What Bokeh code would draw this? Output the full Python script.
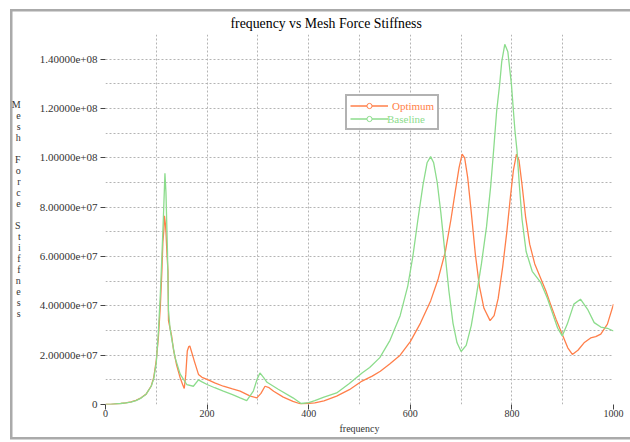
from bokeh.plotting import figure
from bokeh.models import (Range1d, FixedTicker, SingleIntervalTicker, Legend,
                          LegendItem, Title, ColumnDataSource)
from bokeh.embed import file_html
from bokeh.resources import INLINE

# Optimum design: frequency sweep and mesh force stiffness (in units of 1e7)
freq_opt = [0, 10, 20, 30, 40, 50, 60, 70, 80, 90, 95, 100, 104, 108, 111, 113,
            115, 116, 118, 119, 121, 123, 124, 127, 130, 134, 140, 147, 152, 155,
            158, 161, 164, 166, 170, 175, 183, 190, 200, 215, 232, 250, 265, 285,
            298, 306, 314, 322, 331, 350, 369, 383, 395, 412, 430, 455, 480, 505,
            525, 541, 560, 580, 600, 620, 640, 655, 669, 680, 689, 696, 702, 707,
            713, 720, 728, 736, 745, 757, 765, 773, 782, 790, 797, 803, 809, 814,
            820, 827, 835, 845, 857, 867, 876, 887, 899, 910, 919, 930, 942, 955,
            965, 975, 988, 1000]
stiff_opt_e7 = [0, 0, 0.02, 0.04, 0.07, 0.11, 0.17, 0.27, 0.42, 0.75, 1.1, 1.8,
                2.7, 4.0, 5.4, 6.6, 7.1, 7.65, 7.3, 7.0, 6.1, 5.4, 3.4, 3.1, 2.8,
                2.2, 1.6, 1.08, 0.8, 0.65, 1.2, 2.17, 2.35, 2.37, 2.1, 1.75, 1.22,
                1.1, 1.02, 0.88, 0.74, 0.63, 0.54, 0.34, 0.27, 0.45, 0.74, 0.68,
                0.54, 0.3, 0.13, 0.03, 0.04, 0.07, 0.15, 0.34, 0.6, 0.95, 1.15,
                1.35, 1.65, 2.0, 2.55, 3.3, 4.2, 5.1, 6.2, 7.5, 8.7, 9.6, 10.15,
                10.0, 9.2, 7.8, 6.1, 4.8, 3.9, 3.4, 3.6, 4.3, 5.6, 7.0, 8.4, 9.5,
                10.15, 9.9, 8.9, 7.6, 6.5, 5.7, 5.1, 4.6, 4.07, 3.45, 2.85, 2.3,
                2.03, 2.2, 2.5, 2.7, 2.75, 2.85, 3.26, 4.07]

# Baseline design
freq_base = [0, 10, 20, 30, 40, 50, 60, 70, 80, 90, 95, 100, 104, 108, 111, 114,
             117, 119, 122, 124, 127, 130, 137, 147, 160, 173, 183, 190, 200, 215,
             232, 250, 265, 278, 291, 298, 304, 311, 318, 340, 369, 385, 400, 412,
             430, 455, 480, 505, 520, 540, 560, 580, 595, 605, 615, 625, 633, 640,
             646, 653, 660, 668, 676, 684, 692, 700, 710, 720, 730, 740, 750, 758,
             764, 767, 770, 776, 780, 786, 792, 799, 803, 806, 810, 815, 820, 828,
             840, 857, 870, 880, 890, 899, 909, 922, 935, 949, 962, 975, 988, 1000]
stiff_base_e7 = [0, 0, 0.02, 0.04, 0.07, 0.1, 0.16, 0.26, 0.42, 0.74, 1.05, 1.7,
                 2.9, 4.5, 6.0, 7.6, 9.37, 8.6, 6.2, 3.8, 3.1, 2.7, 1.9, 1.23, 0.81,
                 0.74, 1.0, 0.92, 0.81, 0.68, 0.54, 0.4, 0.27, 0.16, 0.54, 1.0, 1.28,
                 1.1, 0.9, 0.62, 0.27, 0.04, 0.08, 0.16, 0.3, 0.47, 0.85, 1.28, 1.5,
                 1.9, 2.6, 3.6, 4.8, 6.0, 7.5, 8.9, 9.8, 10.05, 9.8, 9.0, 7.8, 6.2,
                 4.6, 3.3, 2.5, 2.15, 2.4, 3.2, 4.4, 5.7, 7.2, 8.8, 10.3, 11.1, 11.9,
                 13.0, 13.9, 14.6, 14.3, 13.0, 11.9, 11.1, 10.3, 8.8, 7.5, 6.2, 5.4,
                 4.94, 4.3, 3.7, 3.1, 2.78, 3.26, 4.07, 4.27, 3.86, 3.32, 3.14, 3.09,
                 2.98]

x_ticks = [0, 200, 400, 600, 800, 1000]
y_ticks = [0, 20000000, 40000000, 60000000, 80000000, 100000000, 120000000, 140000000]
y_tick_labels = ["0", "2.00000e+07", "4.00000e+07", "6.00000e+07", "8.00000e+07",
                 "1.00000e+08", "1.20000e+08", "1.40000e+08"]

series_names = ["Optimum", "Baseline"]
title_text = "frequency vs Mesh Force Stiffness"
x_label = "frequency"
y_label_words = ["Mesh", "Force", "Stiffness"]

ORANGE = "#ff7f4a"
GREEN = "#8cdc8c"
FRAME_GREY = "#aaaaaa"
SERIF = "Liberation Serif"
W, H = 630, 442
FRAME_LEFT, FRAME_BOTTOM = 105, 404   # canvas position of the plot frame corner
NAN = float("nan")


def sx(cx):
    """canvas x (from left) -> offset from the frame's left edge"""
    return cx - FRAME_LEFT


def sy(cy):
    """canvas y (from top) -> offset above the frame's bottom edge"""
    return FRAME_BOTTOM - cy


p = figure(width=W, height=H, x_range=Range1d(0, 1000), y_range=Range1d(0, 1.5e8),
           output_backend="svg", toolbar_location=None, title=None,
           min_border_left=FRAME_LEFT, min_border_right=17, min_border_top=34,
           min_border_bottom=H - FRAME_BOTTOM)
p.background_fill_color = "white"
# transparent border area so the page frame lines below show through
p.border_fill_color = None
p.outline_line_color = None

# grey window frame (left, top and bottom rules) painted behind the canvas
rule = f"linear-gradient({FRAME_GREY}, {FRAME_GREY})"
p.styles = {
    "background-color": "white",
    "background-image": ", ".join([rule, rule, rule]),
    "background-position": "10px 9px, 10px 9px, 10px 437px",
    "background-size": "2.5px 430px, 640px 2.5px, 640px 2.5px",
    "background-repeat": "no-repeat",
}

p.add_layout(Title(text=title_text, align="left", offset=125, standoff=7,
                   text_font=SERIF, text_font_size="13.8px", text_font_style="normal",
                   text_color="black"), "above")

src_opt = ColumnDataSource(dict(f=freq_opt, k=[v * 1e7 for v in stiff_opt_e7]))
src_base = ColumnDataSource(dict(f=freq_base, k=[v * 1e7 for v in stiff_base_e7]))
# legend-only source: no position, so nothing is drawn in the plot area
src_key = ColumnDataSource(dict(f=[NAN], k=[NAN]))

r_opt = p.line("f", "k", source=src_opt, line_color=ORANGE, line_width=1.3)
r_base = p.line("f", "k", source=src_base, line_color=GREEN, line_width=1.3)
m_opt = p.scatter("f", "k", source=src_key, marker="circle", size=6,
                  line_color=ORANGE, fill_color="white")
m_base = p.scatter("f", "k", source=src_key, marker="circle", size=6,
                   line_color=GREEN, fill_color="white")
r_none = p.line("f", "k", source=src_key, line_alpha=0)

# grid: dotted, every 100 in x and 1e7 in y
p.xgrid.ticker = SingleIntervalTicker(interval=100)
p.ygrid.ticker = SingleIntervalTicker(interval=1e7)
for g in (p.xgrid, p.ygrid):
    g.grid_line_color = "#b4b4b4"
    g.grid_line_dash = "2 2"
    g.grid_line_width = 1

for ax in (p.xaxis, p.yaxis):
    ax.axis_line_color = None
    ax.major_tick_line_color = "#444444"
    ax.major_tick_in = 0
    ax.major_tick_out = 5
    ax.minor_tick_line_color = None
    ax.major_label_text_font = SERIF
    ax.major_label_text_color = "#333333"
    ax.axis_label_text_font = SERIF
    ax.axis_label_text_font_size = "10px"
    ax.axis_label_text_font_style = "normal"
    ax.axis_label_text_color = "#333333"

p.xaxis.ticker = FixedTicker(ticks=x_ticks)
p.xaxis.major_label_text_font_size = "10px"
p.xaxis.major_label_standoff = 0
p.xaxis.axis_label = x_label
p.xaxis.axis_label_standoff = 3

p.yaxis.ticker = FixedTicker(ticks=y_ticks)
p.yaxis.major_label_overrides = dict(zip(y_ticks, y_tick_labels))
p.yaxis.major_label_text_font_size = "11px"
p.yaxis.major_label_standoff = 3
# vertical axis title as a column of upright letters, words split by a blank line
p.yaxis.axis_label = "\n\n".join("\n".join(w) for w in y_label_words) + "\n\n"
p.yaxis.axis_label_orientation = "horizontal"
p.yaxis.axis_label_text_line_height = 1.0
p.yaxis.axis_label_text_align = "center"
p.yaxis.axis_label_standoff = 16

# legend: two stacked legends so each label keeps its series colour
common = dict(label_text_font=SERIF, label_text_font_size="11px", glyph_width=38,
              glyph_height=13, label_height=13, label_standoff=4, spacing=0,
              padding=3, margin=0)
leg1 = Legend(items=[LegendItem(label=series_names[0], renderers=[r_opt, m_opt]),
                     LegendItem(label=" ", renderers=[r_base, m_base])],
              label_text_color=ORANGE, border_line_color="#666666",
              border_line_width=2, background_fill_color="white",
              location=(sx(345), sy(130)), **common)
leg2 = Legend(items=[LegendItem(label=series_names[1], renderers=[r_none])],
              label_text_color=GREEN, border_line_color=None,
              background_fill_alpha=0, location=(sx(345), sy(125)), **common)
p.add_layout(leg1, "center")
p.add_layout(leg2, "center")

open("out.html", "w").write(file_html(p, INLINE))
